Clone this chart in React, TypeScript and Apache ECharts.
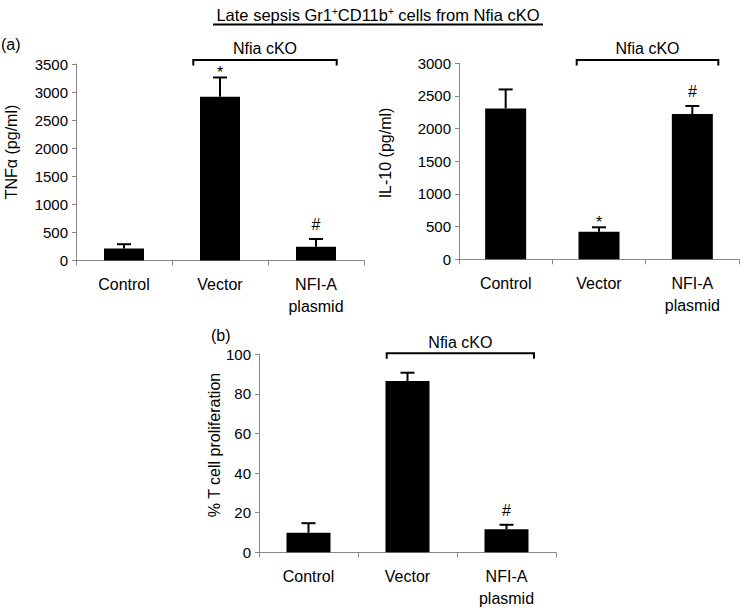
import React, { useEffect, useRef } from 'react';
import * as echarts from 'echarts';

const categories = ['Control', 'Vector', 'NFI-A\nplasmid'];

const tnfValues = [215, 2915, 246];
const tnfErrors = [75, 345, 137];
const tnfMarks = ['', '*', '#'];

const il10Values = [2310, 423, 2225];
const il10Errors = [290, 67, 122];
const il10Marks = ['', '*', '#'];

const tcellValues = [9.9, 86.5, 11.6];
const tcellErrors = [4.8, 4.2, 2.3];
const tcellMarks = ['', '', '#'];

const tnfAxis = { min: 0, max: 3500, interval: 500 };
const il10Axis = { min: 0, max: 3000, interval: 500 };
const tcellAxis = { min: 0, max: 100, interval: 20 };

const titleText = 'Late sepsis Gr1{sup|+}CD11b{sup|+} cells from Nfia cKO';
const groupLabel = 'Nfia cKO';
const yTitles = ['TNFα (pg/ml)', 'IL-10 (pg/ml)', '% T cell proliferation'];

const FONT = "'Liberation Sans', Arial, Helvetica, sans-serif";
const AXIS_COLOR = '#888';

function makeErrorSeries(idx: number, values: number[], errors: number[], marks: string[]) {
  return {
    type: 'custom',
    xAxisIndex: idx,
    yAxisIndex: idx,
    z: 5,
    data: values.map((v, i) => [i, v, errors[i]]),
    renderItem: (params: any, api: any) => {
      const x = api.value(0);
      const v = api.value(1);
      const e = api.value(2);
      const base = api.coord([x, v]);
      const top = api.coord([x, v + e]);
      const children: any[] = [
        { type: 'line', shape: { x1: base[0], y1: base[1], x2: top[0], y2: top[1] }, style: { stroke: '#000', lineWidth: 2 } },
        { type: 'line', shape: { x1: top[0] - 7, y1: top[1], x2: top[0] + 7, y2: top[1] }, style: { stroke: '#000', lineWidth: 2 } },
      ];
      const mark = marks[params.dataIndex];
      if (mark) {
        children.push({
          type: 'text',
          x: top[0],
          y: top[1] - (mark === '*' ? 5 : 14),
          style: { text: mark, fontSize: 16, fontFamily: FONT, fill: '#000', align: 'center', verticalAlign: 'middle' },
        });
      }
      return { type: 'group', children };
    },
  };
}

function makeX(idx: number) {
  return {
    type: 'category',
    gridIndex: idx,
    data: categories,
    axisLine: { show: true, lineStyle: { color: AXIS_COLOR, width: 1 } },
    axisTick: { show: true, length: 5, lineStyle: { color: AXIS_COLOR } },
    axisLabel: { interval: 0, fontSize: 16, color: '#000', fontFamily: FONT, lineHeight: 22, margin: 13 },
  };
}

function makeY(idx: number, ax: { min: number; max: number; interval: number }) {
  return {
    type: 'value',
    gridIndex: idx,
    min: ax.min,
    max: ax.max,
    interval: ax.interval,
    axisLine: { show: true, lineStyle: { color: AXIS_COLOR, width: 1 } },
    axisTick: { show: true, length: 4, lineStyle: { color: AXIS_COLOR } },
    axisLabel: { fontSize: 15, color: '#000', fontFamily: FONT, margin: 8, formatter: (v: number) => String(v) },
    splitLine: { show: false },
  };
}

function bracket(x1: number, x2: number, y: number, textY: number) {
  return [
    {
      type: 'polyline',
      shape: { points: [[x1, y + 5.5], [x1, y], [x2, y], [x2, y + 5.5]] },
      style: { stroke: '#000', lineWidth: 2, fill: null },
    },
    {
      type: 'text',
      x: (x1 + x2) / 2,
      y: textY,
      style: { text: groupLabel, fontSize: 16, fontFamily: FONT, fill: '#000', align: 'center', verticalAlign: 'middle' },
    },
  ];
}

function yTitle(text: string, x: number, y: number) {
  return {
    type: 'text',
    x,
    y,
    rotation: Math.PI / 2,
    style: { text, fontSize: 16, fontFamily: FONT, fill: '#000', align: 'center', verticalAlign: 'middle' },
  };
}

export default function App() {
  const ref = useRef<HTMLDivElement>(null);
  useEffect(() => {
    if (!ref.current) return;
    const chart = echarts.init(ref.current, null, { renderer: 'svg' });
    const barStyle = { color: '#000' };
    chart.setOption({
      animation: false,
      backgroundColor: '#fff',
      grid: [
        { left: 76, top: 64, width: 288, height: 196.5 },
        { left: 459, top: 63.3, width: 280, height: 196 },
        { left: 259, top: 354.3, width: 297, height: 198 },
      ],
      xAxis: [makeX(0), makeX(1), makeX(2)],
      yAxis: [makeY(0, tnfAxis), makeY(1, il10Axis), makeY(2, tcellAxis)],
      series: [
        { type: 'bar', xAxisIndex: 0, yAxisIndex: 0, data: tnfValues, barWidth: 40, itemStyle: barStyle },
        { type: 'bar', xAxisIndex: 1, yAxisIndex: 1, data: il10Values, barWidth: 41, itemStyle: barStyle },
        { type: 'bar', xAxisIndex: 2, yAxisIndex: 2, data: tcellValues, barWidth: 44, itemStyle: barStyle },
        makeErrorSeries(0, tnfValues, tnfErrors, tnfMarks),
        makeErrorSeries(1, il10Values, il10Errors, il10Marks),
        makeErrorSeries(2, tcellValues, tcellErrors, tcellMarks),
      ],
      graphic: [
        {
          type: 'text',
          x: 378,
          y: 15,
          style: {
            text: titleText,
            fontSize: 16.5,
            fontFamily: FONT,
            fill: '#000',
            align: 'center',
            verticalAlign: 'middle',
            rich: { sup: { fontSize: 10, lineHeight: 10, verticalAlign: 'top', fontFamily: FONT, fill: '#000' } },
          },
        },
        { type: 'line', shape: { x1: 213, y1: 24.5, x2: 543, y2: 24.5 }, style: { stroke: '#000', lineWidth: 2 } },
        { type: 'text', x: 1, y: 44, style: { text: '(a)', fontSize: 16, fontFamily: FONT, fill: '#000', verticalAlign: 'middle' } },
        { type: 'text', x: 211, y: 335, style: { text: '(b)', fontSize: 16, fontFamily: FONT, fill: '#000', verticalAlign: 'middle' } },
        ...bracket(193.3, 336.7, 60, 48),
        ...bracket(576.7, 718.3, 60, 48),
        ...bracket(386.7, 534, 353.3, 342),
        yTitle(yTitles[0], 11, 152),
        yTitle(yTitles[1], 385, 153),
        yTitle(yTitles[2], 214, 445),
      ],
    });
    return () => chart.dispose();
  }, []);
  return <div ref={ref} style={{ position: 'absolute', left: 0, top: 0, width: 747, height: 612 }} />;
}
